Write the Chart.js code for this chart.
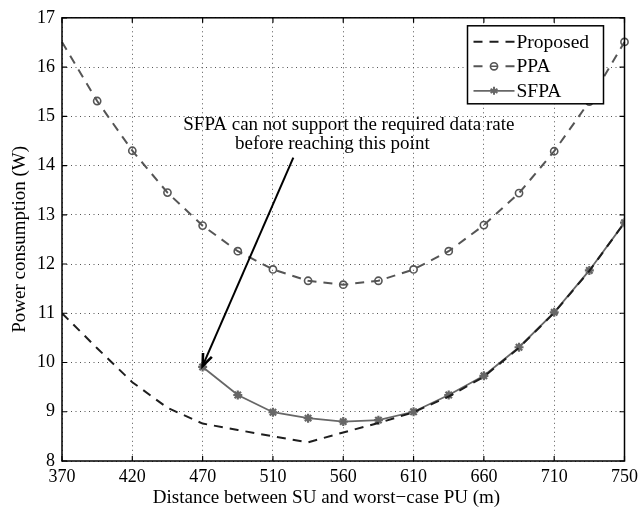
<!DOCTYPE html>
<html>
<head>
<meta charset="utf-8">
<script src="https://cdn.jsdelivr.net/npm/chart.js@4/dist/chart.umd.min.js"></script>
<style>
  html, body { margin: 0; padding: 0; background: #fff; }
  canvas { display: block; }
</style>
</head>
<body>
<canvas id="powerChart" width="643" height="507"></canvas>
<script>
// Tick labels on the distance axis (one every other sample)
const xTickLabels = ['370', '420', '470', '510', '560', '610', '660', '710', '750'];

// Power consumption (W) per sample position
const proposed = [11.00, 10.29, 9.60, 9.08, 8.76, 8.63, 8.50, 8.38, 8.58, 8.77, 8.99, 9.31, 9.71, 10.30, 11.01, 11.86, 12.84];
const ppa = [16.51, 15.31, 14.30, 13.45, 12.78, 12.26, 11.89, 11.66, 11.58, 11.66, 11.89, 12.26, 12.79, 13.44, 14.29, 15.30, 16.51];
const sfpa = [null, null, null, null, 9.91, 9.34, 8.99, 8.87, 8.80, 8.83, 9.00, 9.34, 9.73, 10.31, 11.02, 11.87, 12.84];

const FONT = 'Liberation Serif, Times New Roman, serif';
const X_TITLE = 'Distance between SU and worst\u2212case PU (m)';

const toPoints = arr => arr.map((v, i) => ({ x: i, y: v }));

// Box, inward tick marks, x title, annotation and legend
const decorations = {
    id: 'decorations',
    afterDatasetsDraw(chart) {
        const { ctx, chartArea: a, scales } = chart;
        const xs = scales.x, ys = scales.y;
        ctx.save();

        // frame
        ctx.strokeStyle = '#000';
        ctx.lineWidth = 1.5;
        ctx.setLineDash([]);
        ctx.strokeRect(a.left, a.top, a.right - a.left, a.bottom - a.top);

        // inward ticks
        ctx.lineWidth = 1.2;
        ctx.beginPath();
        for (let i = 0; i <= 16; i += 2) {
            const px = xs.getPixelForValue(i);
            ctx.moveTo(px, a.bottom); ctx.lineTo(px, a.bottom - 5);
            ctx.moveTo(px, a.top); ctx.lineTo(px, a.top + 5);
        }
        for (let v = 8; v <= 17; v++) {
            const py = ys.getPixelForValue(v);
            ctx.moveTo(a.left, py); ctx.lineTo(a.left + 5, py);
            ctx.moveTo(a.right, py); ctx.lineTo(a.right - 5, py);
        }
        ctx.stroke();

        // x axis title, centred on the whole figure
        ctx.fillStyle = '#000';
        ctx.font = '19px ' + FONT;
        ctx.textAlign = 'center';
        ctx.textBaseline = 'alphabetic';
        ctx.fillText(X_TITLE, chart.width / 2 + 5, a.bottom + 42);

        // annotation text
        ctx.textAlign = 'left';
        ctx.fillText('SFPA can not support the required data rate', xs.getPixelForValue(3.45), ys.getPixelForValue(14.73));
        ctx.fillText('before reaching this point', xs.getPixelForValue(4.92), ys.getPixelForValue(14.33));

        // arrow to the first SFPA point
        const tx = xs.getPixelForValue(4), ty = ys.getPixelForValue(sfpa[4]) - 1;
        const sx = xs.getPixelForValue(6.58), sy = ys.getPixelForValue(14.16);
        const ang = Math.atan2(ty - sy, tx - sx);
        ctx.strokeStyle = '#000';
        ctx.lineWidth = 2;
        ctx.beginPath();
        ctx.moveTo(sx, sy);
        ctx.lineTo(tx, ty);
        ctx.stroke();
        ctx.lineWidth = 2.6;
        ctx.lineJoin = 'miter';
        ctx.beginPath();
        ctx.moveTo(tx - 13 * Math.cos(ang - 0.38), ty - 13 * Math.sin(ang - 0.38));
        ctx.lineTo(tx, ty);
        ctx.lineTo(tx - 13 * Math.cos(ang + 0.38), ty - 13 * Math.sin(ang + 0.38));
        ctx.stroke();

        // legend box
        const lx = a.right - 157, ly = a.top + 8, lw = 136, lh = 78;
        ctx.fillStyle = '#fff';
        ctx.fillRect(lx, ly, lw, lh);
        ctx.lineWidth = 1.5;
        ctx.strokeRect(lx, ly, lw, lh);

        const rows = chart.data.datasets;
        rows.forEach((ds, k) => {
            const ry = ly + 16 + k * 24.5;
            const x0 = lx + 6, x1 = lx + 47;
            ctx.strokeStyle = ds.borderColor;
            ctx.lineWidth = ds.borderWidth;
            ctx.setLineDash(ds.borderDash || []);
            ctx.beginPath();
            ctx.moveTo(x0, ry);
            ctx.lineTo(x1, ry);
            ctx.stroke();
            ctx.setLineDash([]);
            const mx = (x0 + x1) / 2;
            if (ds.label === 'PPA') {
                ctx.fillStyle = '#fff';
                ctx.fillRect(mx - 7, ry - 2, 14, 4);
                ctx.lineWidth = 1.6;
                ctx.beginPath();
                ctx.arc(mx, ry, 3.6, 0, Math.PI * 2);
                ctx.moveTo(mx - 3.6, ry); ctx.lineTo(mx + 3.6, ry);
                ctx.stroke();
            } else if (ds.label === 'SFPA') {
                ctx.lineWidth = 2;
                ctx.beginPath();
                for (let j = 0; j < 3; j++) {
                    const t = j * Math.PI / 3 + Math.PI / 2;
                    ctx.moveTo(mx - 4 * Math.cos(t), ry - 4 * Math.sin(t));
                    ctx.lineTo(mx + 4 * Math.cos(t), ry + 4 * Math.sin(t));
                }
                ctx.stroke();
            }
            ctx.fillStyle = '#000';
            ctx.font = '19.5px ' + FONT;
            ctx.textAlign = 'left';
            ctx.textBaseline = 'middle';
            ctx.fillText(ds.label, x1 + 2, ry + 1);
        });

        ctx.restore();
    }
};

const chart = new Chart(document.getElementById('powerChart'), {
    type: 'line',
    data: {
        datasets: [
            {
                label: 'Proposed',
                data: toPoints(proposed),
                borderColor: '#1e1e1e',
                borderWidth: 2,
                borderDash: [9, 7],
                pointRadius: 0,
                tension: 0
            },
            {
                label: 'PPA',
                data: toPoints(ppa),
                borderColor: '#555555',
                borderWidth: 2,
                borderDash: [9, 7],
                pointStyle: 'circle',
                pointRadius: ctx => (ctx.dataIndex === 0 ? 0 : 3.6),
                pointBorderWidth: 1.6,
                pointBorderColor: '#555555',
                pointBackgroundColor: 'rgba(0,0,0,0)',
                clip: false,
                tension: 0
            },
            {
                label: 'SFPA',
                data: toPoints(sfpa),
                borderColor: '#676767',
                borderWidth: 1.8,
                pointStyle: 'star',
                pointRadius: 4.5,
                pointBorderWidth: 2.2,
                pointBorderColor: '#676767',
                pointBackgroundColor: '#676767',
                tension: 0
            }
        ]
    },
    options: {
        responsive: false,
        animation: false,
        devicePixelRatio: 1,
        layout: { padding: { top: 14, right: 15, left: 0, bottom: 0 } },
        plugins: {
            legend: { display: false },
            tooltip: { enabled: false }
        },
        scales: {
            x: {
                type: 'linear',
                min: 0,
                max: 16,
                afterFit: scale => { scale.height = 46; },
                ticks: {
                    stepSize: 2,
                    autoSkip: false,
                    maxRotation: 0,
                    padding: 5,
                    color: '#000',
                    font: { family: FONT, size: 18 },
                    callback: v => xTickLabels[v / 2]
                },
                grid: {
                    drawTicks: false,
                    color: '#555',
                    lineWidth: 1
                },
                border: { display: false, dash: [1, 3.5] }
            },
            y: {
                min: 8,
                max: 17,
                afterFit: scale => { scale.width = 62; },
                ticks: {
                    stepSize: 1,
                    padding: 7,
                    color: '#000',
                    font: { family: FONT, size: 18 }
                },
                grid: {
                    drawTicks: false,
                    color: '#555',
                    lineWidth: 1
                },
                border: { display: false, dash: [1, 3.5] },
                title: {
                    display: true,
                    text: 'Power consumption (W)',
                    color: '#000',
                    font: { family: FONT, size: 19 },
                    padding: { top: 9, bottom: 0 }
                }
            }
        }
    },
    plugins: [decorations]
});
</script>
</body>
</html>
